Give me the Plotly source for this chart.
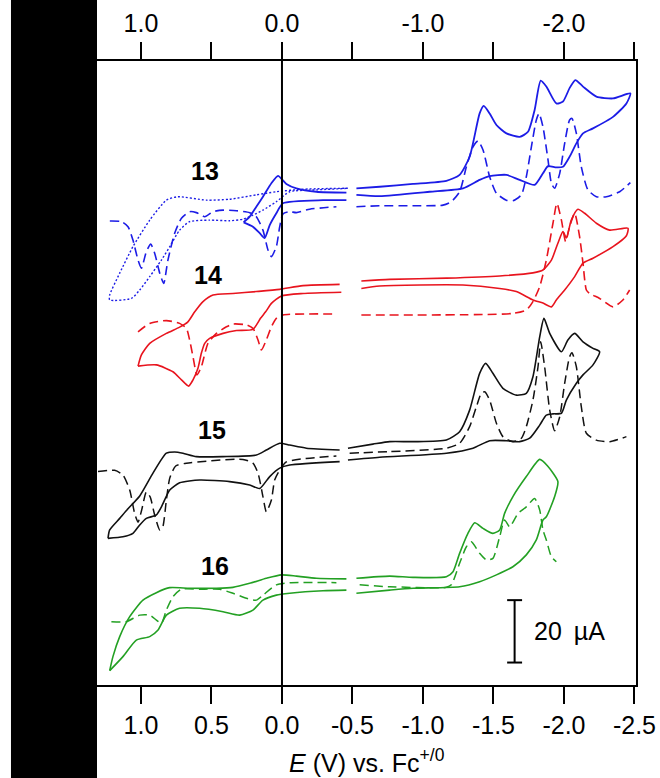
import plotly.graph_objects as go

# ---------------- data (E in V vs Fc+/0, I in µA incl. vertical offsets) ----------------
# 13 : CV (solid)
E13_cv = [0.272, 0.229, 0.182, 0.135, 0.075, 0.028, -0.031, -0.102, -0.244, -0.457, None,
          -0.528, -0.693, -0.929, -1.166, -1.260, -1.331, -1.402, -1.431, -1.473, -1.521, -1.592,
          -1.686, -1.745, -1.792, -1.835, -1.875, -1.946, -1.993, -2.040, -2.081, -2.135, -2.230,
          -2.348, -2.471,
          -2.443, -2.348, -2.206, -2.135, -2.088, -2.040, -1.993, -1.946, -1.887, -1.851, -1.792,
          -1.686, -1.591, -1.473, -1.402, -1.284, -1.048, -0.693, -0.528, None,
          -0.457, -0.291, -0.007, 0.040, 0.087, 0.123, 0.158, 0.206, 0.272]
I13_cv = [148.3, 150.1, 153.3, 156.5, 160.8, 163.2, 160.6, 159.2, 158.1, 157.8, None,
          159.2, 159.7, 160.6, 161.6, 163.5, 169.3, 183.2, 185.6, 183.2, 179.5, 176.8,
          175.7, 177.3, 184.3, 193.7, 191.8, 186.4, 187.0, 191.3, 193.9, 191.8, 188.6,
          188.0, 189.6,
          186.4, 182.1, 178.4, 176.8, 173.6, 169.3, 166.1, 165.9, 166.3, 164.0, 160.3,
          161.9, 163.5, 163.1, 161.9, 159.2, 158.1, 156.7, 157.1, None,
          155.4, 155.4, 154.4, 151.2, 147.4, 143.2, 144.8, 146.9, 148.3]
# 13 : DPV (dashed)
E13_dpv = [1.221, 1.139, 1.092, 1.057, 1.021, 0.997, 0.962, 0.931, 0.903, 0.867, 0.839, 0.809,
           0.761, 0.713, 0.655, 0.607, 0.548, 0.489, 0.418, 0.323, 0.229, 0.182, 0.135, 0.099,
           0.075, 0.040, 0.016, -0.007, -0.055, -0.102, -0.196, -0.386, None,
           -0.528, -0.693, -0.929, -1.142, -1.201, -1.260, -1.308, -1.355, -1.390, -1.426, -1.473,
           -1.521, -1.591, -1.638, -1.698, -1.733, -1.769, -1.804, -1.823, -1.851, -1.887, -1.911,
           -1.934, -1.970, -2.005, -2.040, -2.057, -2.088, -2.123, -2.170, -2.230, -2.301, -2.395,
           -2.471]
I13_dpv = [148.7, 148.5, 146.9, 142.6, 136.2, 133.6, 138.9, 141.3, 138.4, 132.0, 128.7, 136.2,
           144.8, 149.6, 151.7, 151.4, 150.1, 151.7, 152.2, 152.0, 151.4, 150.1, 145.8, 139.4,
           137.3, 140.5, 146.9, 151.0, 151.7, 151.4, 152.5, 153.3, None,
           153.3, 153.6, 153.6, 153.8, 154.9, 158.1, 166.1, 172.5, 174.4, 171.5, 162.9,
           157.6, 155.4, 155.2, 157.1, 162.9, 172.5, 181.1, 183.2, 178.9, 168.3, 160.8,
           159.2, 164.0, 173.6, 181.1, 181.6, 176.8, 166.1, 158.7, 156.5, 156.5, 158.1,
           161.0]
# 13 : oxidative CV (dotted)
E13_ox = [-0.468, -0.149, 0.040, 0.182, 0.371, 0.536, 0.738, 0.820, 0.938, 1.057, 1.151, 1.222,
          1.222, 1.068, 1.009, 0.938, 0.855, 0.796, 0.726, 0.655, 0.513, 0.371, 0.277, 0.206,
          0.135, 0.040, -0.055, -0.244, -0.468]
I13_ox = [159.2, 158.9, 158.1, 157.1, 155.7, 155.4, 156.5, 155.4, 149.0, 140.5, 132.0, 125.0,
          123.4, 123.9, 126.6, 130.9, 136.2, 140.5, 145.8, 148.5, 149.0, 148.8, 149.3, 150.6,
          152.2, 154.9, 158.1, 158.7, 159.2]

# 14 : CV (solid)
E14_cv = [1.021, 0.997, 0.938, 0.820, 0.726, 0.669, 0.619, 0.562, 0.489, 0.348, 0.182, 0.016,
          -0.149, -0.409, None,
          -0.563, -0.764, -1.166, -1.544, -1.780, -1.851, -1.911, -1.957, -1.993, -2.017, -2.052,
          -2.099, -2.147, -2.230, -2.324, -2.454,
          -2.443, -2.348, -2.206, -2.135, -2.076, -2.005, -1.946, -1.911, -1.851, -1.780, -1.662,
          -1.544, -1.284, -0.693, -0.563, None,
          -0.421, -0.149, 0.004, 0.075, 0.116, 0.151, 0.206, 0.323, 0.418, 0.513, 0.548, 0.572,
          0.596, 0.631, 0.662, 0.713, 0.773, 0.891, 1.021]
I14_cv = [102.2, 105.8, 109.5, 112.7, 114.7, 116.3, 119.6, 122.8, 125.0, 125.5, 126.1, 126.8,
          128.0, 128.4, None,
          129.5, 130.0, 130.4, 131.1, 132.1, 133.0, 136.2, 141.6, 145.3, 143.3, 149.0,
          152.5, 151.2, 148.0, 145.8, 146.4,
          144.0, 140.5, 136.8, 135.2, 130.9, 126.6, 123.4, 121.2, 122.4, 123.4, 126.1,
          127.1, 128.2, 127.9, 127.1, None,
          125.9, 125.5, 124.7, 122.3, 119.6, 117.6, 114.0, 113.6, 112.7, 111.1, 109.5, 106.3,
          101.5, 97.8, 95.8, 97.8, 100.4, 102.6, 102.2]
# 14 : DPV (dashed)
E14_dpv = [1.021, 0.938, 0.820, 0.726, 0.678, 0.655, 0.631, 0.603, 0.572, 0.525, 0.465, 0.394,
           0.348, 0.252, 0.206, 0.170, 0.146, 0.111, 0.075, 0.040, -0.007, -0.386, None,
           -0.563, -1.638, -1.733, -1.780, -1.828, -1.875, -1.922, -1.950, -1.982, -2.012, -2.040,
           -2.076, -2.111, -2.135, -2.159, -2.182, -2.253, -2.348, -2.418, -2.466]
I14_dpv = [113.2, 115.9, 116.8, 115.9, 114.3, 110.6, 105.2, 99.4, 102.0, 109.5, 112.7, 114.8,
           115.7, 115.4, 114.3, 110.6, 107.4, 110.6, 114.8, 117.5, 118.6, 118.9, None,
           118.6, 119.1, 120.2, 122.9, 127.7, 136.2, 148.0, 154.4, 149.0, 142.1, 146.9,
           151.2, 143.7, 135.2, 126.6, 125.5, 123.9, 121.2, 123.4, 126.6]

# 15 : CV (solid)
E15_cv = [1.234, 1.222, 1.151, 1.094, 1.009, 0.915, 0.820, 0.761, 0.702, 0.607, 0.418, 0.182,
          0.111, 0.016, -0.055, -0.173, -0.409, None,
          -0.468, -0.645, -0.764, -0.929, -1.166, -1.260, -1.331, -1.402, -1.445, -1.496, -1.567,
          -1.662, -1.733, -1.780, -1.828, -1.858, -1.899, -1.982, -2.028, -2.076, -2.135, -2.206,
          -2.253,
          -2.206, -2.135, -2.088, -2.017, -1.982, -1.922, -1.875, -1.828, -1.757, -1.686, -1.591,
          -1.473, -1.355, -1.166, -0.693, -0.468, None,
          -0.409, -0.055, 0.016, 0.087, 0.158, 0.229, 0.371, 0.584, 0.726, 0.796, 0.855, 0.891,
          0.962, 1.009, 1.057, 1.128, 1.234]
I15_cv = [47.0, 49.7, 53.4, 56.4, 60.6, 67.9, 74.3, 74.7, 74.3, 73.2, 73.2, 73.7,
          75.3, 77.5, 76.9, 75.9, 75.3, None,
          75.9, 77.2, 78.0, 78.0, 78.5, 81.2, 88.1, 99.9, 103.1, 99.9, 95.1,
          92.9, 93.5, 98.8, 111.6, 117.5, 112.7, 106.8, 110.6, 112.7, 110.0, 107.9,
          106.8,
          102.6, 99.4, 96.7, 91.3, 87.1, 86.9, 86.5, 83.3, 79.1, 78.0, 78.3,
          78.3, 75.9, 74.3, 73.0, 72.1, None,
          71.6, 70.5, 69.5, 66.8, 63.0, 64.1, 65.2, 65.7, 64.8, 62.5, 57.1, 54.5,
          53.4, 51.3, 48.6, 47.5, 47.0]
# 15 : DPV (dashed)
E15_dpv = [1.305, 1.187, 1.128, 1.080, 1.045, 1.021, 0.995, 0.962, 0.935, 0.903, 0.867, 0.846,
           0.820, 0.796, 0.754, 0.678, 0.277, 0.206, 0.170, 0.135, 0.111, 0.075, 0.052, 0.016,
           -0.031, -0.386, None,
           -0.480, -0.764, -1.166, -1.260, -1.331, -1.379, -1.414, -1.438, -1.473, -1.521, -1.567,
           -1.638, -1.698, -1.733, -1.780, -1.816, -1.835, -1.863, -1.899, -1.934, -1.970, -2.005,
           -2.040, -2.057, -2.088, -2.123, -2.159, -2.230, -2.324, -2.443]
I15_dpv = [68.4, 68.8, 67.3, 62.5, 55.0, 52.2, 56.1, 61.9, 60.3, 54.5, 49.7, 50.6,
           59.3, 66.3, 70.2, 71.1, 72.3, 71.1, 67.9, 60.4, 55.5, 59.3, 65.7, 68.9,
           71.5, 73.4, None,
           74.3, 74.8, 75.9, 77.5, 82.8, 89.2, 93.5, 94.0, 91.3, 83.9, 79.6,
           78.0, 79.1, 82.8, 91.3, 102.0, 110.0, 102.0, 88.1, 81.5, 86.0, 96.7,
           105.2, 106.5, 102.0, 89.2, 80.7, 78.5, 78.0, 79.6]

# 16 : CV (solid)
E16_cv = [1.222, 1.199, 1.151, 1.080, 0.986, 0.891, 0.796, 0.655, 0.465, 0.348, 0.229, 0.111,
          0.004, -0.102, -0.244, -0.457, None,
          -0.528, -0.764, -0.929, -1.166, -1.213, -1.260, -1.319, -1.367, -1.426, -1.496, -1.544,
          -1.579, -1.638, -1.733, -1.828, -1.884, -1.957,
          -1.934, -1.875, -1.851, -1.804, -1.733, -1.638, -1.521, -1.402, -1.260, -0.929, -0.764,
          -0.528, None,
          -0.457, -0.291, -0.055, 0.040, 0.135, 0.206, 0.300, 0.418, 0.584, 0.726, 0.820, 0.879,
          0.938, 1.033, 1.128, 1.222]
I16_cv = [4.6, 9.1, 15.5, 21.9, 27.2, 29.6, 31.2, 31.0, 31.0, 31.3, 32.6, 34.2,
          35.3, 34.9, 34.2, 34.0, None,
          34.2, 34.9, 34.5, 34.7, 36.3, 42.2, 48.6, 52.0, 50.2, 48.6, 49.7,
          55.0, 60.4, 66.8, 72.3, 70.2, 65.2,
          60.4, 53.9, 52.9, 46.5, 41.7, 37.9, 35.3, 33.1, 31.5, 31.0, 30.4,
          29.4, None,
          30.4, 30.2, 29.4, 28.8, 27.2, 24.0, 22.4, 23.5, 24.6, 24.6, 22.4, 17.6,
          15.5, 14.4, 9.1, 4.6]
# 16 : DPV (dashed)
E16_dpv = [1.210, 1.104, 1.009, 0.938, 0.891, 0.855, 0.820, 0.773, 0.713, 0.584, 0.442, 0.348,
           0.252, 0.182, 0.135, 0.040, -0.055, -0.386, None,
           -0.551, -0.764, -1.166, -1.201, -1.260, -1.308, -1.343, -1.402, -1.450, -1.496, -1.544,
           -1.579, -1.615, -1.674, -1.733, -1.792, -1.828, -1.851, -1.875, -1.911, -1.946]
I16_dpv = [20.3, 20.3, 22.4, 22.4, 20.8, 19.8, 24.0, 28.3, 30.7, 30.7, 30.7, 29.4,
           27.8, 27.2, 28.8, 32.1, 32.8, 32.8, None,
           32.1, 31.5, 31.3, 32.1, 39.0, 44.3, 45.9, 42.2, 40.1, 40.6, 47.5,
           52.9, 50.7, 55.0, 57.1, 59.8, 56.1, 49.7, 46.5, 41.1, 39.5]

# compound labels
label_text = ["13", "14", "15", "16"]
label_E = [0.547, 0.527, 0.498, 0.477]
label_I = [164.6, 131.4, 81.8, 38.0]

# scale bar
scale_E = -1.650
scale_I0 = 7.2
scale_len = 20  # µA

bottom_ticks = [1.0, 0.5, 0.0, -0.5, -1.0, -1.5, -2.0, -2.5]
bottom_text = ["1.0", "0.5", "0.0", "-0.5", "-1.0", "-1.5", "-2.0", "-2.5"]
top_major = [1.0, 0.0, -1.0, -2.0]
top_text = ["1.0", "0.0", "-1.0", "-2.0"]
top_minor = [0.5, -0.5, -1.5, -2.5]

# ---------------- figure ----------------
BLUE = "#1c1ce6"
RED = "#e8141e"
BLACK = "#111111"
GREEN = "#23a023"
DASH = "9px,5px"
FONT = "Liberation Sans, Arial"

fig = go.Figure()

def add(E, I, color, dash="solid", width=1.6):
    fig.add_trace(go.Scatter(x=E, y=I, mode="lines", connectgaps=False,
                             line=dict(color=color, width=width, dash=dash,
                                       shape="spline", smoothing=0.6),
                             hoverinfo="skip", showlegend=False))

add(E13_ox, I13_ox, BLUE, "2px,2px", 1.4)
add(E13_dpv, I13_dpv, BLUE, DASH, 1.6)
add(E13_cv, I13_cv, BLUE, "solid", 1.8)
add(E14_dpv, I14_dpv, RED, DASH, 1.6)
add(E14_cv, I14_cv, RED, "solid", 1.6)
add(E15_dpv, I15_dpv, BLACK, DASH, 1.5)
add(E15_cv, I15_cv, BLACK, "solid", 1.6)
add(E16_dpv, I16_dpv, GREEN, DASH, 1.5)
add(E16_cv, I16_cv, GREEN, "solid", 1.6)

# invisible trace to carry the top axis
fig.add_trace(go.Scatter(x=[top_major[0]], y=[0], xaxis="x2", mode="markers",
                         marker=dict(opacity=0), hoverinfo="skip", showlegend=False))

for t, e, i in zip(label_text, label_E, label_I):
    fig.add_annotation(x=e, y=i, text="<b>%s</b>" % t, showarrow=False,
                       font=dict(family=FONT, size=25, color="black"),
                       xanchor="center", yanchor="middle")

# scale bar
cap = 0.053
fig.add_shape(type="line", x0=scale_E, x1=scale_E, y0=scale_I0, y1=scale_I0 + scale_len,
              line=dict(color="black", width=2))
fig.add_shape(type="line", x0=scale_E - cap, x1=scale_E + cap, y0=scale_I0, y1=scale_I0,
              line=dict(color="black", width=2))
fig.add_shape(type="line", x0=scale_E - cap, x1=scale_E + cap, y0=scale_I0 + scale_len,
              y1=scale_I0 + scale_len, line=dict(color="black", width=2))
fig.add_annotation(x=scale_E - 0.121, y=scale_I0 + scale_len / 2,
                   text="%d\u2009 µA" % scale_len,
                   showarrow=False, xanchor="left", yanchor="middle",
                   font=dict(family=FONT, size=25, color="black"))

# vertical zero line
fig.add_shape(type="line", x0=0, x1=0, y0=0, y1=1, yref="paper",
              line=dict(color="black", width=2))

# black bar at the left edge
fig.add_shape(type="rect", xref="paper", yref="paper", x0=-0.1596, x1=0.0,
              y0=-0.16, y1=1.11, fillcolor="black", line=dict(width=0), layer="above")

# axis title
fig.add_annotation(x=0.5, y=-0.121, xref="paper", yref="paper",
                   text="<i>E</i> (V) vs. Fc<sup>+/0</sup>", showarrow=False,
                   xanchor="center", yanchor="middle",
                   font=dict(family=FONT, size=25, color="black"))

xr = [1.312, -2.511]
tickfont = dict(family=FONT, size=25, color="black")
fig.update_layout(
    template="none",
    width=660, height=778,
    margin=dict(l=97, r=24, t=61, b=93, autoexpand=False),
    paper_bgcolor="white", plot_bgcolor="white",
    xaxis=dict(range=xr, tickmode="array", tickvals=bottom_ticks, ticktext=bottom_text,
               ticks="outside", ticklen=17, tickwidth=1.5, tickcolor="black", showline=True,
               linecolor="black", linewidth=1.5, showgrid=False, zeroline=False,
               tickfont=tickfont, ticklabelstandoff=0, automargin=False),
    xaxis2=dict(range=xr, overlaying="x", side="top", tickmode="array", tickvals=top_major,
                ticktext=top_text, ticks="outside", ticklen=17, tickwidth=1.5,
                tickcolor="black", showline=True, linecolor="black", linewidth=1.5,
                showgrid=False, zeroline=False, tickfont=tickfont, ticklabelstandoff=0,
                automargin=False,
                minor=dict(tickmode="array", tickvals=top_minor, ticks="outside", ticklen=17,
                           tickwidth=1.5, tickcolor="black", showgrid=False)),
    yaxis=dict(range=[0, 200], showticklabels=False, ticks="", showgrid=False, zeroline=False,
               showline=True, mirror=True, linecolor="black", linewidth=1.5,
               automargin=False),
)

fig.write_html("out.html", config={"displayModeBar": False},
               post_script="document.body.style.margin='0';document.body.style.overflow='hidden';")
